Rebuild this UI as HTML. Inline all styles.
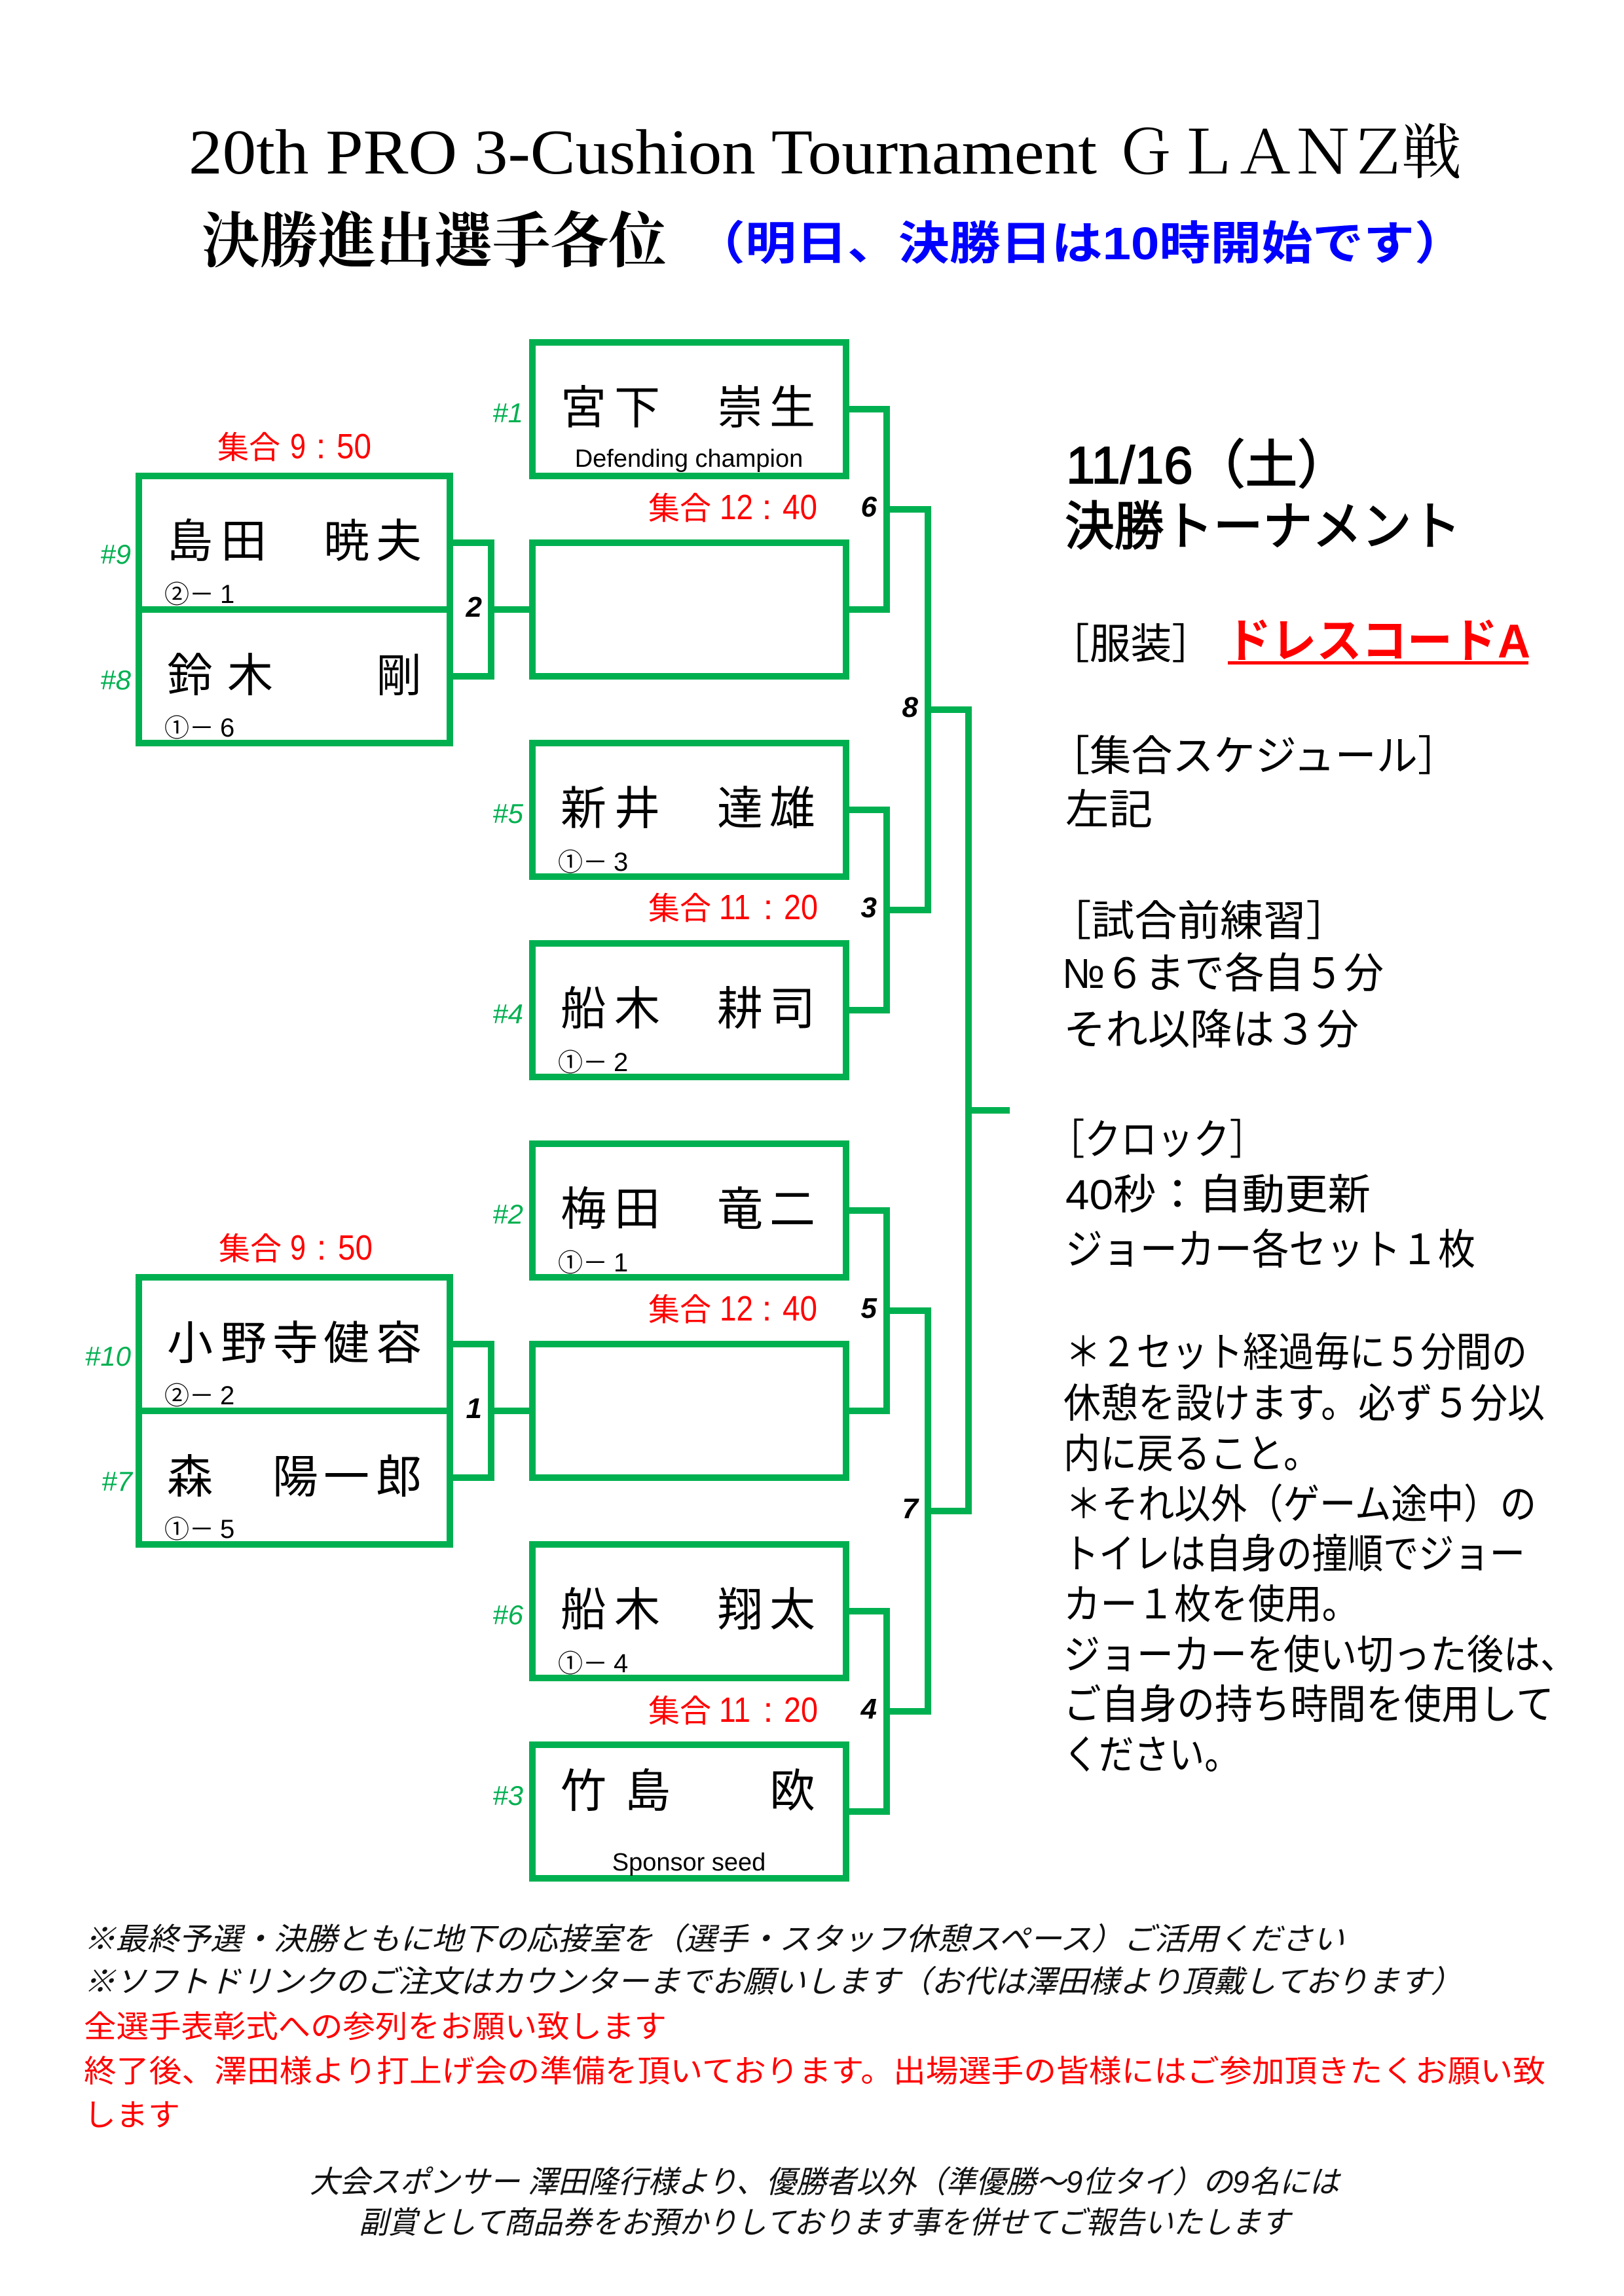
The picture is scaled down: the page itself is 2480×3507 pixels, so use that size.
<!DOCTYPE html>
<html><head><meta charset="utf-8">
<style>
html,body{margin:0;padding:0;background:#fff;}
svg{display:block;}
.s{font-family:"Liberation Sans","Noto Sans CJK JP",sans-serif;}
.se{font-family:"Liberation Serif","Noto Serif CJK SC",serif;}
</style></head><body>
<svg width="2480" height="3507" viewBox="0 0 2480 3507" xmlns="http://www.w3.org/2000/svg">
<rect x="0" y="0" width="2480" height="3507" fill="#fff"/>

<!-- Title -->
<text class="se" x="288" y="265" font-size="98" textLength="1387" lengthAdjust="spacingAndGlyphs" fill="#000">20th PRO 3-Cushion Tournament</text>
<text class="se" x="1748 1842 1932 2020 2104 2186" y="265" font-size="92" text-anchor="middle" fill="#000">ＧＬＡＮＺ戦</text>
<text class="se" x="308" y="400" font-size="92" font-weight="700" textLength="710" lengthAdjust="spacingAndGlyphs" fill="#000">決勝進出選手各位</text>
<text class="s" x="1060" y="396" font-size="70" font-weight="700" textLength="1178" lengthAdjust="spacingAndGlyphs" fill="#0000ff">（明日、決勝日は10時開始です）</text>

<!-- Bracket boxes -->
<g fill="none" stroke="#00b050" stroke-width="10">
<rect x="212" y="727" width="475" height="408"/>
<rect x="212" y="1951" width="475" height="408"/>
<rect x="813" y="523" width="479" height="204"/>
<rect x="813" y="829" width="479" height="204"/>
<rect x="813" y="1135" width="479" height="204"/>
<rect x="813" y="1441" width="479" height="204"/>
<rect x="813" y="1747" width="479" height="204"/>
<rect x="813" y="2053" width="479" height="204"/>
<rect x="813" y="2359" width="479" height="204"/>
<rect x="813" y="2665" width="479" height="204"/>
</g>
<g fill="#00b050">
<!-- dividers -->
<rect x="207" y="926" width="485" height="10"/>
<rect x="207" y="2150" width="485" height="10"/>
<!-- left connectors A -->
<rect x="692" y="824" width="63" height="10"/>
<rect x="692" y="1028" width="63" height="10"/>
<rect x="745" y="824" width="10" height="214"/>
<rect x="755" y="926" width="53" height="10"/>
<!-- left connectors B -->
<rect x="692" y="2048" width="63" height="10"/>
<rect x="692" y="2252" width="63" height="10"/>
<rect x="745" y="2048" width="10" height="214"/>
<rect x="755" y="2150" width="53" height="10"/>
<!-- level 1: 6 -->
<rect x="1297" y="620" width="62" height="10"/>
<rect x="1297" y="926" width="62" height="10"/>
<rect x="1349" y="620" width="10" height="316"/>
<rect x="1359" y="773" width="63" height="10"/>
<!-- 3 -->
<rect x="1297" y="1232" width="62" height="10"/>
<rect x="1297" y="1538" width="62" height="10"/>
<rect x="1349" y="1232" width="10" height="316"/>
<rect x="1359" y="1385" width="63" height="10"/>
<!-- 5 -->
<rect x="1297" y="1844" width="62" height="10"/>
<rect x="1297" y="2150" width="62" height="10"/>
<rect x="1349" y="1844" width="10" height="316"/>
<rect x="1359" y="1997" width="63" height="10"/>
<!-- 4 -->
<rect x="1297" y="2456" width="62" height="10"/>
<rect x="1297" y="2762" width="62" height="10"/>
<rect x="1349" y="2456" width="10" height="316"/>
<rect x="1359" y="2609" width="63" height="10"/>
<!-- level 2 -->
<rect x="1412" y="773" width="10" height="622"/>
<rect x="1422" y="1079" width="62" height="10"/>
<rect x="1412" y="1997" width="10" height="622"/>
<rect x="1422" y="2303" width="62" height="10"/>
<!-- final -->
<rect x="1474" y="1079" width="10" height="1234"/>
<rect x="1484" y="1691" width="58" height="10"/>
</g>

<!-- Connector numbers -->
<g class="s" font-size="44" font-weight="700" font-style="italic" text-anchor="end" fill="#000">
<text x="736" y="942">2</text>
<text x="736" y="2166">1</text>
<text x="1339" y="789">6</text>
<text x="1339" y="1401">3</text>
<text x="1339" y="2013">5</text>
<text x="1339" y="2625">4</text>
<text x="1402" y="1095">8</text>
<text x="1402" y="2319">7</text>
</g>

<!-- Seed numbers -->
<g class="s" font-size="42" font-style="italic" text-anchor="end" fill="#00b050">
<text x="200" y="861">#9</text>
<text x="200" y="1053">#8</text>
<text x="200" y="2086">#10</text>
<text x="202" y="2277">#7</text>
<text x="799" y="645">#1</text>
<text x="799" y="1257">#5</text>
<text x="799" y="1563">#4</text>
<text x="799" y="1869">#2</text>
<text x="799" y="2481">#6</text>
<text x="799" y="2757">#3</text>
</g>

<!-- Names -->
<g class="s" font-size="70" fill="#000">
<text x="255 337 416 494 574" y="851">島田　暁夫</text>
<text x="255 347 416 494 574" y="1056">鈴木　　剛</text>
<text x="255 337 416 494 574" y="2076">小野寺健容</text>
<text x="255 337 416 494 574" y="2280">森　陽一郎</text>
<text x="856 938 1017 1095 1175" y="647">宮下　崇生</text>
<text x="856 938 1017 1095 1175" y="1259">新井　達雄</text>
<text x="856 938 1017 1095 1175" y="1565">船木　耕司</text>
<text x="856 938 1017 1095 1175" y="1871">梅田　竜二</text>
<text x="856 938 1017 1095 1175" y="2483">船木　翔太</text>
<text x="856 954 1017 1095 1175" y="2760">竹島　　欧</text>
</g>

<!-- Sub labels -->
<g class="s" fill="#000">
<text x="1052" y="713" font-size="38" text-anchor="middle">Defending champion</text>
<text x="1052" y="2857" font-size="38" text-anchor="middle">Sponsor seed</text>
</g>
<g class="s" fill="#000">
<text y="921" font-size="38"><tspan x="251">②</tspan><tspan x="289">－</tspan><tspan x="336" font-size="40">1</tspan></text>
<text y="1125" font-size="38"><tspan x="251">①</tspan><tspan x="289">－</tspan><tspan x="336" font-size="40">6</tspan></text>
<text y="2145" font-size="38"><tspan x="251">②</tspan><tspan x="289">－</tspan><tspan x="336" font-size="40">2</tspan></text>
<text y="2349" font-size="38"><tspan x="251">①</tspan><tspan x="289">－</tspan><tspan x="336" font-size="40">5</tspan></text>
<text y="1330" font-size="38"><tspan x="852">①</tspan><tspan x="890">－</tspan><tspan x="937" font-size="40">3</tspan></text>
<text y="1636" font-size="38"><tspan x="852">①</tspan><tspan x="890">－</tspan><tspan x="937" font-size="40">2</tspan></text>
<text y="1942" font-size="38"><tspan x="852">①</tspan><tspan x="890">－</tspan><tspan x="937" font-size="40">1</tspan></text>
<text y="2554" font-size="38"><tspan x="852">①</tspan><tspan x="890">－</tspan><tspan x="937" font-size="40">4</tspan></text>
</g>

<!-- Red times -->
<g class="s" fill="#ff0000">
<text x="332" y="700" font-size="48">集合</text>
<text x="443" y="700" font-size="54" textLength="24" lengthAdjust="spacingAndGlyphs">9</text>
<text x="490" y="700" font-size="54" text-anchor="middle">:</text>
<text x="514" y="700" font-size="54" textLength="53" lengthAdjust="spacingAndGlyphs">50</text>

<text x="334" y="1924" font-size="48">集合</text>
<text x="443" y="1924" font-size="54" textLength="24" lengthAdjust="spacingAndGlyphs">9</text>
<text x="491" y="1924" font-size="54" text-anchor="middle">:</text>
<text x="516" y="1924" font-size="54" textLength="53" lengthAdjust="spacingAndGlyphs">50</text>

<text x="990" y="793" font-size="48">集合</text>
<text x="1099" y="793" font-size="54" textLength="51" lengthAdjust="spacingAndGlyphs">12</text>
<text x="1171" y="793" font-size="54" text-anchor="middle">:</text>
<text x="1195" y="793" font-size="54" textLength="53" lengthAdjust="spacingAndGlyphs">40</text>

<text x="990" y="1404" font-size="48">集合</text>
<text x="1098" y="1404" font-size="54" textLength="48" lengthAdjust="spacingAndGlyphs">11</text>
<text x="1173" y="1404" font-size="54" text-anchor="middle">:</text>
<text x="1197" y="1404" font-size="54" textLength="52" lengthAdjust="spacingAndGlyphs">20</text>

<text x="990" y="2017" font-size="48">集合</text>
<text x="1099" y="2017" font-size="54" textLength="51" lengthAdjust="spacingAndGlyphs">12</text>
<text x="1171" y="2017" font-size="54" text-anchor="middle">:</text>
<text x="1195" y="2017" font-size="54" textLength="53" lengthAdjust="spacingAndGlyphs">40</text>

<text x="990" y="2630" font-size="48">集合</text>
<text x="1098" y="2630" font-size="54" textLength="48" lengthAdjust="spacingAndGlyphs">11</text>
<text x="1173" y="2630" font-size="54" text-anchor="middle">:</text>
<text x="1197" y="2630" font-size="54" textLength="52" lengthAdjust="spacingAndGlyphs">20</text>
</g>

<!-- Right column -->
<g class="s" fill="#000">
<text x="1628" y="738" font-size="80" stroke="#000" stroke-width="1.8" textLength="433" lengthAdjust="spacingAndGlyphs">11/16（土）</text>
<text x="1626" y="832" font-size="80" stroke="#000" stroke-width="1.8" textLength="605" lengthAdjust="spacingAndGlyphs">決勝トーナメント</text>
<text x="1601" y="1006" font-size="64" textLength="251" lengthAdjust="spacingAndGlyphs">［服装］</text>
<text x="1601" y="1177" font-size="64" textLength="627" lengthAdjust="spacingAndGlyphs">［集合スケジュール］</text>
<text x="1627" y="1259" font-size="64" textLength="133" lengthAdjust="spacingAndGlyphs">左記</text>
<text x="1601" y="1429" font-size="64" textLength="459" lengthAdjust="spacingAndGlyphs">［試合前練習］</text>
<text x="1622" y="1509" font-size="64" textLength="491" lengthAdjust="spacingAndGlyphs">№６まで各自５分</text>
<text x="1624" y="1595" font-size="64" textLength="451" lengthAdjust="spacingAndGlyphs">それ以降は３分</text>
<text x="1601" y="1763" font-size="64" textLength="332" lengthAdjust="spacingAndGlyphs">［クロック］</text>
<text x="1627" y="1847" font-size="64" textLength="466" lengthAdjust="spacingAndGlyphs">40秒：自動更新</text>
<text x="1627" y="1931" font-size="64" textLength="626" lengthAdjust="spacingAndGlyphs">ジョーカー各セット１枚</text>
<text x="1627" y="2087" font-size="62" textLength="705" lengthAdjust="spacingAndGlyphs">＊２セット経過毎に５分間の</text>
<text x="1624" y="2165" font-size="62" textLength="735" lengthAdjust="spacingAndGlyphs">休憩を設けます。必ず５分以</text>
<text x="1624" y="2242" font-size="62" textLength="392" lengthAdjust="spacingAndGlyphs">内に戻ること。</text>
<text x="1627" y="2319" font-size="62" textLength="719" lengthAdjust="spacingAndGlyphs">＊それ以外（ゲーム途中）の</text>
<text x="1624" y="2395" font-size="62" textLength="705" lengthAdjust="spacingAndGlyphs">トイレは自身の撞順でジョー</text>
<text x="1624" y="2472" font-size="62" textLength="451" lengthAdjust="spacingAndGlyphs">カー１枚を使用。</text>
<text x="1624" y="2549" font-size="62" textLength="784" lengthAdjust="spacingAndGlyphs">ジョーカーを使い切った後は、</text>
<text x="1624" y="2625" font-size="62" textLength="749" lengthAdjust="spacingAndGlyphs">ご自身の持ち時間を使用して</text>
<text x="1624" y="2702" font-size="62" textLength="269" lengthAdjust="spacingAndGlyphs">ください。</text>
</g>
<text class="s" x="1872" y="1004" font-size="72" font-weight="700" textLength="465" lengthAdjust="spacingAndGlyphs" fill="#ff0000">ドレスコードA</text>
<rect x="1875" y="1010" width="459" height="5" fill="#ff0000"/>

<!-- Bottom notes -->
<g class="s" font-size="47">
<text x="128" y="2978" font-style="italic" fill="#111" textLength="1925" lengthAdjust="spacingAndGlyphs">※最終予選・決勝ともに地下の応接室を（選手・スタッフ休憩スペース）ご活用ください</text>
<text x="128" y="3043" font-style="italic" fill="#111" textLength="2105" lengthAdjust="spacingAndGlyphs">※ソフトドリンクのご注文はカウンターまでお願いします（お代は澤田様より頂戴しております）</text>
<text x="128" y="3112" fill="#ff0000" textLength="890" lengthAdjust="spacingAndGlyphs">全選手表彰式への参列をお願い致します</text>
<text x="128" y="3180" fill="#ff0000" textLength="2232" lengthAdjust="spacingAndGlyphs">終了後、澤田様より打上げ会の準備を頂いております。出場選手の皆様にはご参加頂きたくお願い致</text>
<text x="128" y="3247" fill="#ff0000" textLength="147" lengthAdjust="spacingAndGlyphs">します</text>
<text x="473" y="3349" font-style="italic" fill="#111" textLength="1572" lengthAdjust="spacingAndGlyphs">大会スポンサー 澤田隆行様より、優勝者以外（準優勝～9位タイ）の9名には</text>
<text x="548" y="3411" font-style="italic" fill="#111" textLength="1422" lengthAdjust="spacingAndGlyphs">副賞として商品券をお預かりしております事を併せてご報告いたします</text>
</g>
</svg>
</body></html>
